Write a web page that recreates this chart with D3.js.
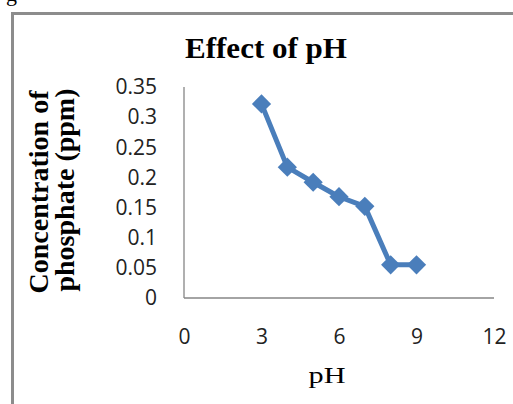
<!DOCTYPE html>
<html>
<head>
<meta charset="utf-8">
<script src="https://cdn.jsdelivr.net/npm/d3@7"></script>
<style>
  body { margin: 0; background: #fff; }
  svg { display: block; }
</style>
</head>
<body>
<div id="chart"></div>
<script>
// chart data
const phValues = [3, 4, 5, 6, 7, 8, 9];
const phosphate = [0.322, 0.217, 0.192, 0.168, 0.152, 0.055, 0.055];
const xTicks = [0, 3, 6, 9, 12];
const yTicks = [0, 0.05, 0.1, 0.15, 0.2, 0.25, 0.3, 0.35];

const WIDTH = 513, HEIGHT = 404;
const PLOT = { left: 184, right: 494, top: 87, bottom: 298 };
const BLUE = "#4a7ebb";
const AXIS_GREY = "#868686";

let svg = d3.select("#chart").append("svg")
  .attr("width", WIDTH)
  .attr("height", HEIGHT);

// stray caption letter clipped at the top of the page
svg.append("text")
  .attr("x", 6).attr("y", 1)
  .style("font-family", "'Liberation Serif', serif")
  .style("font-size", "22px")
  .text("g");

// outer frame (runs off the right and bottom of the picture)
svg.append("rect")
  .attr("x", 12.5).attr("y", 13.5)
  .attr("width", 600).attr("height", 500)
  .attr("fill", "none")
  .attr("stroke", "#8c8c8c")
  .attr("stroke-width", 3);

let xScale = d3.scaleLinear().domain([0, 12]).range([PLOT.left, PLOT.right]);
let yScale = d3.scaleLinear().domain([0, 0.35]).range([PLOT.bottom, PLOT.top]);

// axes
let xAxis = svg.append("g")
  .attr("transform", "translate(0," + PLOT.bottom + ")")
  .call(d3.axisBottom(xScale).tickValues(xTicks).tickSize(0).tickPadding(31).tickFormat(d3.format("d")));
let yAxis = svg.append("g")
  .attr("transform", "translate(" + PLOT.left + ",0)")
  .call(d3.axisLeft(yScale).tickValues(yTicks).tickSize(0).tickPadding(27).tickFormat(d => d === 0 ? "0" : String(+d.toFixed(2))));

[xAxis, yAxis].forEach(a => {
  a.select(".domain").attr("stroke", AXIS_GREY).attr("stroke-width", 1.3);
  a.selectAll("text")
    .attr("fill", "#222")
    .style("font-family", "'Open Sans', Lato, sans-serif")
    .style("font-size", "21px");
});
xAxis.select(".domain").attr("d", "M" + PLOT.left + ",0H" + PLOT.right);
yAxis.select(".domain").attr("d", "M0," + PLOT.top + "V" + PLOT.bottom);

// title
svg.append("text")
  .attr("x", 266).attr("y", 58)
  .attr("text-anchor", "middle")
  .attr("textLength", 162)
  .attr("lengthAdjust", "spacingAndGlyphs")
  .style("font-family", "'Liberation Serif', 'Times New Roman', serif")
  .style("font-weight", "bold")
  .style("font-size", "29px")
  .text("Effect of pH");

// x axis title
svg.append("text")
  .attr("x", 327).attr("y", 383)
  .attr("text-anchor", "middle")
  .attr("textLength", 37)
  .attr("lengthAdjust", "spacingAndGlyphs")
  .style("font-family", "'Liberation Serif', 'Times New Roman', serif")
  .style("font-size", "24px")
  .text("pH");

// y axis title, two lines
let yTitle = [
  { text: "Concentration of", x: 48, y: 192 },
  { text: "phosphate (ppm)", x: 74, y: 190 }
];
svg.selectAll(".ytitle")
  .data(yTitle)
  .enter().append("text")
  .attr("class", "ytitle")
  .attr("transform", d => "translate(" + d.x + "," + d.y + ") rotate(-90)")
  .attr("text-anchor", "middle")
  .style("font-family", "'Liberation Serif', 'Times New Roman', serif")
  .style("font-weight", "bold")
  .style("font-size", "28px")
  .text(d => d.text);

// series
let points = phValues.map((p, i) => ({ ph: p, conc: phosphate[i] }));

svg.append("path")
  .datum(points)
  .attr("fill", "none")
  .attr("stroke", BLUE)
  .attr("stroke-width", 5)
  .attr("stroke-linejoin", "round")
  .attr("d", d3.line()
    .x(d => xScale(d.ph))
    .y(d => yScale(d.conc)));

svg.selectAll(".marker")
  .data(points)
  .enter().append("path")
  .attr("class", "marker")
  .attr("transform", d => "translate(" + xScale(d.ph) + "," + yScale(d.conc) + ") rotate(45)")
  .attr("fill", BLUE)
  .attr("d", d3.symbol().type(d3.symbolSquare).size(185));
</script>
</body>
</html>
